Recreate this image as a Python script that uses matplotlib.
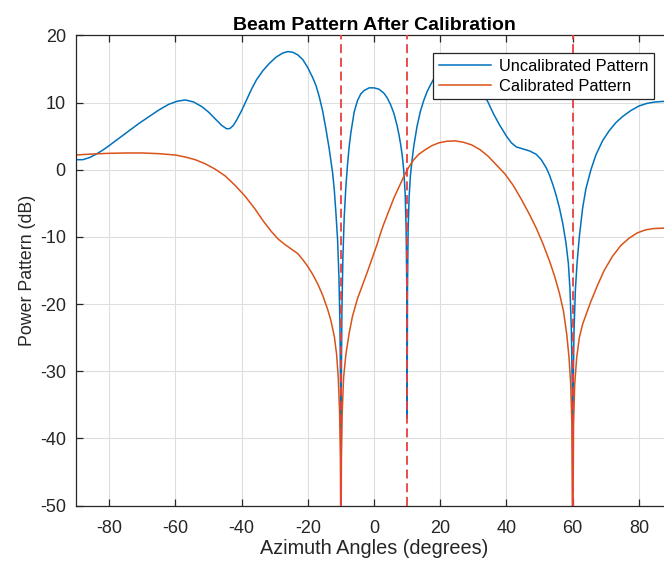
import matplotlib
matplotlib.use("Agg")
import matplotlib.pyplot as plt

plt.rcParams['font.family'] = ['Liberation Sans', 'DejaVu Sans']
plt.rcParams['axes.unicode_minus'] = False

# uncalibrated pattern
ang_uncal = [-90, -88, -86, -84, -82, -80, -77, -74, -71, -68, -65, -62, -59.5, -57,
             -54.5, -52, -50, -48, -46, -44.5, -43.5, -42.5, -41.5, -40, -38.5, -37,
             -35.5, -33.5, -31.5, -29.5, -27.5, -26, -24.5, -23, -21.5, -20, -18.5,
             -17.5, -16.5, -15.5, -14.5, -13.5, -12.5, -12, -11.5, -11, -10.6, -10.3,
             -10.1, -10, -9.9, -9.7, -9.4, -9, -8.5, -8, -7.5, -7, -6, -5, -4, -3,
             -1.5, 0, 1.5, 3, 4, 5, 6, 7, 7.5, 8, 8.5, 9, 9.4, 9.7, 9.9, 10, 10.1,
             10.3, 10.6, 11, 11.5, 12, 13, 14, 15, 16, 17, 18, 20, 22.5, 25, 27.5, 30,
             32.5, 34.5, 36, 38, 40, 41.5, 43, 45, 47, 49, 50.5, 52, 53, 54, 55, 56,
             57, 58, 58.7, 59.2, 59.6, 59.85, 60, 60.15, 60.4, 60.8, 61.3, 62, 63, 64,
             65.5, 67, 69, 71, 73, 75, 77.5, 80, 82.5, 85, 87.5, 90]
pow_uncal = [1.5, 1.5, 1.8, 2.3, 2.9, 3.6, 4.7, 5.8, 6.9, 7.9, 8.9, 9.75, 10.2, 10.4,
             10.1, 9.4, 8.6, 7.6, 6.6, 6.1, 6.15, 6.6, 7.4, 8.8, 10.4, 12.0,
             13.4, 14.8, 15.9, 16.8, 17.4, 17.6, 17.5, 17.1, 16.4, 15.2, 13.7,
             12.5, 10.8, 8.7, 6.0, 3.0, -0.5, -3, -6.5, -10.5, -16, -23,
             -33, -60, -33, -21, -13, -7, -2.5, 0.8, 3.5, 5.5, 8.6, 10.3, 11.3, 11.8,
             12.2, 12.2, 12.0, 11.4, 10.7, 9.7, 8.4, 6.5, 5.3, 3.9, 2.2, -0.2, -3.5, -9, -18, -37, -18,
             -9, -4, -0.8, 1.5, 3.5, 6.5, 8.7, 10.3, 11.6, 12.6, 13.5, 14.8, 15.5, 15.6, 15.0, 13.7,
             11.8, 10, 8.4, 6.6, 5.0, 4.0, 3.4, 3.1, 2.8, 2.3, 1.5, 0.3, -0.8, -2.2, -3.8, -5.7,
             -8, -11, -14, -18, -24, -32, -44, -32, -24, -18, -14, -10, -5.7, -2.8,
             0, 2.2, 4.3, 5.8, 7.0, 7.9, 8.8, 9.5, 9.9, 10.1, 10.2, 10.2]

# calibrated pattern
ang_cal = [-90, -85, -80, -75, -70, -65, -60, -57, -54, -51, -48, -45, -42, -39, -36,
           -33.5, -31, -29, -27, -25, -23, -21.5, -20, -18.5, -17, -15.5, -14, -13, -12,
           -11.3, -10.8, -10.4, -10.15, -10, -9.85, -9.6, -9.2, -8.5, -7.5, -6.5, -5,
           -3.5, -2, -1, 0, 1, 2, 3, 4.5, 6, 7.5, 9, 10.5, 12, 13.5, 15.5, 17.5, 19.5,
           22, 24.5, 27, 29.5, 32, 34.5, 37, 39.5, 42, 44.5, 47, 49, 51, 53, 54.5, 56,
           57.2, 58.2, 58.9, 59.4, 59.75, 60, 60.25, 60.6, 61.2, 62, 63, 64.3, 65.5,
           67.5, 69.5, 72, 74.5, 77, 79.5, 82, 84.5, 87, 90]
pow_cal = [2.2, 2.35, 2.45, 2.5, 2.5, 2.4, 2.2, 1.9, 1.5, 0.9, 0.1, -0.9, -2.3, -3.9, -5.8,
           -7.6, -9.2, -10.3, -11.1, -11.8, -12.5, -13.4, -14.4, -15.6, -17.0, -18.7, -20.8, -22.5, -24.8,
           -27.5, -31, -36, -43, -60, -43, -36, -31, -27.5, -24.3, -21.8, -19.2,
           -17.2, -15.2, -13.8, -12.4, -11, -9.4, -8, -6.1, -4.2, -2.6, -1.0, 0.4, 1.5, 2.3, 3.0, 3.6, 4.0,
           4.25, 4.3, 4.1, 3.7, 3.0, 2.0, 0.7, -0.6, -2.3, -4.4, -6.7, -8.7, -11, -13.6, -15.8, -18.4,
           -21, -24.5, -28, -32, -38, -60, -38, -32, -28, -25, -23, -21.2, -19.6,
           -17.2, -15, -12.9, -11.3, -10.2, -9.4, -8.95, -8.75, -8.7, -8.7]

null_angles = [-10, 10, 60]
x_ticks = [-80, -60, -40, -20, 0, 20, 40, 60, 80]
y_ticks = [-50, -40, -30, -20, -10, 0, 10, 20]

fig = plt.figure(figsize=(6.64, 5.65), dpi=100)
ax = fig.add_axes([0.1145, 0.1053, 0.8976, 0.8319])

ax.plot(ang_uncal, pow_uncal, color='#0072BD', lw=1.1, label='Uncalibrated Pattern')
ax.plot(ang_cal, pow_cal, color='#D95319', lw=1.1, label='Calibrated Pattern')
for a in null_angles:
    ax.axvline(a, color='#e8403f', lw=1.3, linestyle=(0, (5, 2.6)), zorder=3)

ax.set_xlim(-90, 90)
ax.set_ylim(-50, 20)
ax.set_xticks(x_ticks)
ax.set_yticks(y_ticks)
ax.grid(True, color='#dedede', lw=0.8)
ax.set_axisbelow(True)

dark = '#262626'
for s in ax.spines.values():
    s.set_color(dark)
    s.set_linewidth(0.9)
ax.tick_params(direction='in', length=5, width=0.9, colors=dark, labelsize=13,
               top=True, right=True)
ax.tick_params(axis='x', pad=10.5)
ax.tick_params(axis='y', pad=7.4)

ax.set_title('Beam Pattern After Calibration', fontsize=14, fontweight='bold',
             color='black', pad=4)
ax.set_xlabel('Azimuth Angles (degrees)', fontsize=14.3, color=dark)
ax.set_ylabel('Power Pattern (dB)', fontsize=12.8, color=dark)
ax.xaxis.set_label_coords(0.5, -0.0713)
ax.yaxis.set_label_coords(-0.067, 0.5)

leg = ax.legend(loc='upper right', bbox_to_anchor=(0.9698, 0.9628), borderaxespad=0,
                fontsize=11.8, fancybox=False, framealpha=1, edgecolor=dark,
                handlelength=3.2, handletextpad=0.45, labelspacing=0.3, borderpad=0.35)
leg.get_frame().set_linewidth(0.9)

fig.savefig('out.png', dpi=100)
